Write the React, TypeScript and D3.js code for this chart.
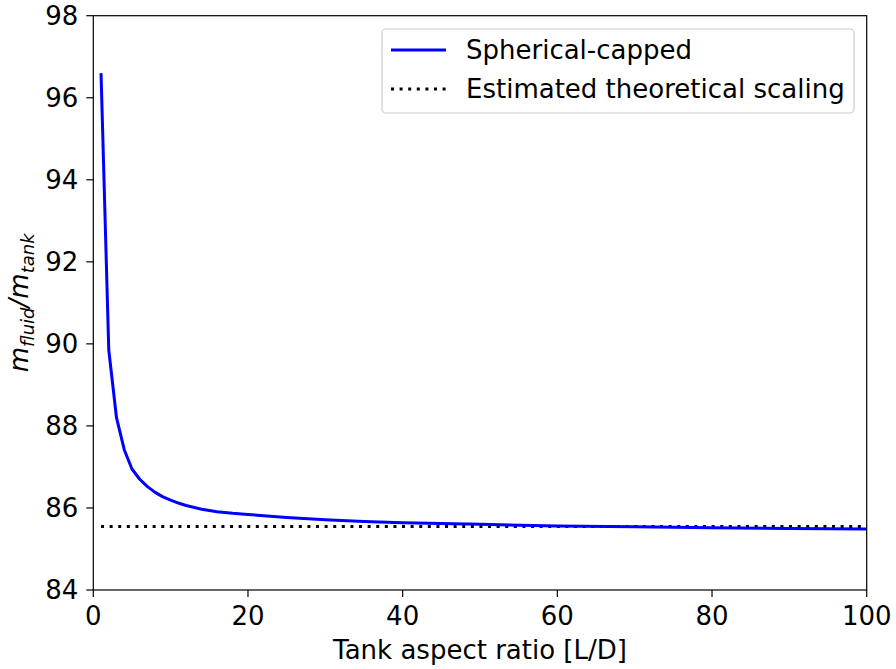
import React from "react";
import * as d3 from "d3";

const aspectRatio = [1, 2, 3, 4, 5, 6, 7, 8, 9, 10, 11, 12, 14, 16, 18, 20, 25, 30, 35, 40, 50, 60, 70, 80, 90, 100];
const massRatio = [96.6, 89.85, 88.2, 87.42, 86.95, 86.7, 86.52, 86.38, 86.27, 86.19, 86.12, 86.06, 85.97, 85.91, 85.87, 85.84, 85.77, 85.71, 85.67, 85.64, 85.6, 85.56, 85.54, 85.52, 85.5, 85.49];
const theoryX = [1, 100];
const theoryY = [85.55, 85.55];
const xTicks = [0, 20, 40, 60, 80, 100];
const yTicks = [84, 86, 88, 90, 92, 94, 96, 98];
const legendLabels = ["Spherical-capped", "Estimated theoretical scaling"];

export default function App() {
  const W = 896, H = 669;
  const left = 93.3, right = 866.7, top = 15.7, bottom = 590;
  const x = d3.scaleLinear().domain([0, 100]).range([left, right]);
  const y = d3.scaleLinear().domain([84, 98]).range([bottom, top]);
  const line = d3.line<[number, number]>().x(d => x(d[0])).y(d => y(d[1]));
  const curve = line(aspectRatio.map((v, i) => [v, massRatio[i]] as [number, number])) || "";
  const theory = line(theoryX.map((v, i) => [v, theoryY[i]] as [number, number])) || "";
  const font = "DejaVu Sans, sans-serif";
  const fs = 26;
  return (
    <svg width={W} height={H} style={{ position: "absolute", left: 0, top: 0 }} fontFamily={font}>
      <rect width={W} height={H} fill="white" />
      <path d={theory} fill="none" stroke="black" strokeWidth={3} strokeDasharray="3,5.6" />
      <path d={curve} fill="none" stroke="#0000ff" strokeWidth={3} strokeLinejoin="round" />
      <rect x={left} y={top} width={right - left} height={bottom - top} fill="none" stroke="black" strokeWidth={1.2} />
      {xTicks.map(t => (
        <g key={"x" + t}>
          <line x1={x(t)} x2={x(t)} y1={bottom} y2={bottom + 7} stroke="black" strokeWidth={1.2} />
          <text x={x(t)} y={625} fontSize={fs} textAnchor="middle">{t}</text>
        </g>
      ))}
      {yTicks.map(t => (
        <g key={"y" + t}>
          <line x1={left - 7} x2={left} y1={y(t)} y2={y(t)} stroke="black" strokeWidth={1.2} />
          <text x={left - 15} y={y(t)} dy="0.36em" fontSize={fs} textAnchor="end">{t}</text>
        </g>
      ))}
      <text x={(left + right) / 2} y={659} fontSize={fs} textAnchor="middle">Tank aspect ratio [L/D]</text>
      <text transform={`translate(28,${(top + bottom) / 2}) rotate(-90)`} fontSize={fs} textAnchor="middle" fontStyle="italic">
        m<tspan fontSize={18} dy="6">fluid</tspan><tspan dy="-6">/m</tspan><tspan fontSize={18} dy="6">tank</tspan>
      </text>
      <g>
        <rect x={382} y={29} width={472} height={84} rx={4} fill="white" fillOpacity={0.8} stroke="#cccccc" strokeWidth={1.2} />
        <line x1={391} x2={446} y1={50} y2={50} stroke="#0000ff" strokeWidth={3} />
        <line x1={391} x2={446} y1={89} y2={89} stroke="black" strokeWidth={3} strokeDasharray="3,5.6" />
        <text x={466} y={50} dy="0.36em" fontSize={fs}>{legendLabels[0]}</text>
        <text x={466} y={89} dy="0.36em" fontSize={fs}>{legendLabels[1]}</text>
      </g>
    </svg>
  );
}
